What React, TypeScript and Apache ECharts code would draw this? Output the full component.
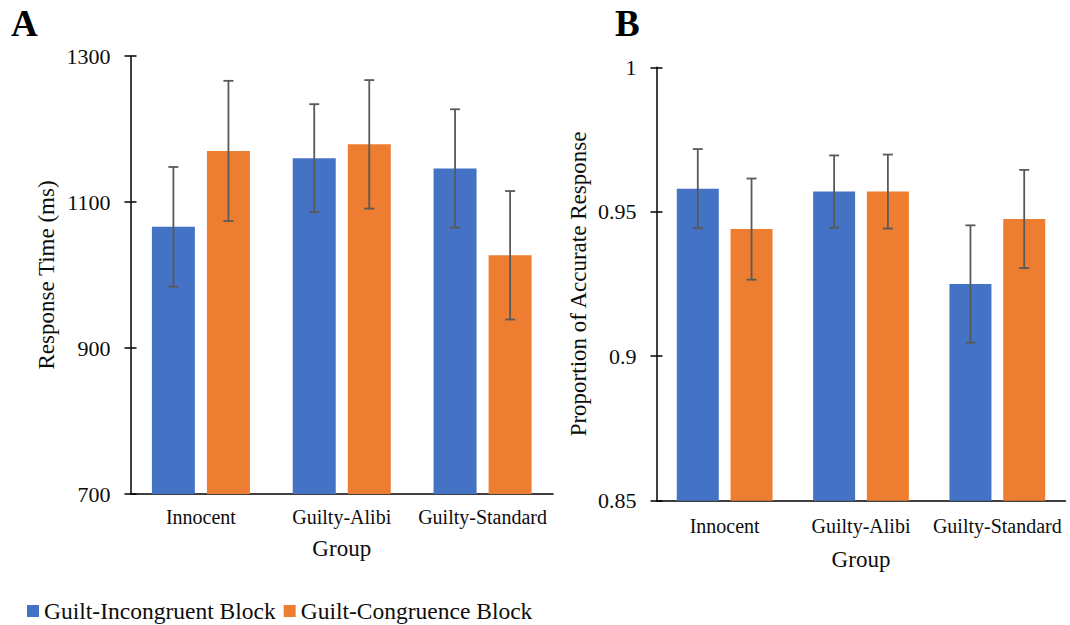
import React, { useEffect, useRef } from "react";
import * as echarts from "echarts";

// Groups shown on both panels
const groups = ["Innocent", "Guilty-Alibi", "Guilty-Standard"];
const seriesNames = ["Guilt-Incongruent Block", "Guilt-Congruence Block"];

// Panel A: response time (ms), mean and error half-width
const rtIncongruent = [1066, 1160, 1146];
const rtIncongruentErr = [82, 74, 81];
const rtCongruent = [1170, 1179, 1027];
const rtCongruentErr = [96, 88, 88];

// Panel B: proportion of accurate responses, mean and error half-width
const accIncongruent = [0.958, 0.957, 0.925];
const accIncongruentErr = [0.0137, 0.0125, 0.0203];
const accCongruent = [0.944, 0.957, 0.9475];
const accCongruentErr = [0.0175, 0.0128, 0.017];

const BLUE = "#4472C4";
const ORANGE = "#ED7D31";
const ERR = "#595959";
const FONT = "'Liberation Serif', 'Times New Roman', serif";
const TXT = "#0d0d0d";

function errorSeries(
  means: number[],
  errs: number[],
  xAxisIndex: number,
  yAxisIndex: number,
  offset: number
) {
  return {
    type: "custom",
    xAxisIndex,
    yAxisIndex,
    silent: true,
    z: 10,
    data: means.map((m, i) => [i, m - errs[i], m + errs[i]]),
    renderItem: (_params: any, api: any) => {
      const i = api.value(0);
      const lo = api.coord([i, api.value(1)]);
      const hi = api.coord([i, api.value(2)]);
      const x = lo[0] + offset;
      const cap = 5;
      const style = { stroke: ERR, lineWidth: 1.8 };
      return {
        type: "group",
        children: [
          { type: "line", shape: { x1: x, y1: lo[1], x2: x, y2: hi[1] }, style },
          { type: "line", shape: { x1: x - cap, y1: hi[1], x2: x + cap, y2: hi[1] }, style },
          { type: "line", shape: { x1: x - cap, y1: lo[1], x2: x + cap, y2: lo[1] }, style },
        ],
      };
    },
  };
}

function categoryAxis(gridIndex: number, nameGap: number, labelMargin: number) {
  return {
    type: "category",
    gridIndex,
    data: groups,
    name: "Group",
    nameLocation: "middle",
    nameGap,
    nameTextStyle: { fontFamily: FONT, fontSize: 23, color: TXT },
    axisLine: { show: true, lineStyle: { color: "#000", width: 1.5 } },
    axisTick: { show: false },
    axisLabel: { interval: 0, fontFamily: FONT, fontSize: 20, color: TXT, margin: labelMargin },
    splitLine: { show: false },
  };
}

function valueAxis(
  gridIndex: number,
  min: number,
  max: number,
  interval: number,
  name: string,
  nameGap: number
) {
  return {
    type: "value",
    gridIndex,
    min,
    max,
    interval,
    name,
    nameLocation: "middle",
    nameGap,
    nameRotate: 90,
    nameTextStyle: { fontFamily: FONT, fontSize: 23, color: TXT },
    axisLine: { show: true, lineStyle: { color: "#000", width: 1.5 } },
    axisTick: { show: true, length: 6, lineStyle: { color: "#000", width: 1.5 } },
    axisLabel: {
      fontFamily: FONT,
      fontSize: 22,
      color: TXT,
      margin: 20,
      formatter: (v: number) => String(Math.round(v * 1000) / 1000),
    },
    splitLine: { show: false },
  };
}

// companion axis that supplies the inward half of the cross tick marks
function innerTickAxis(gridIndex: number, min: number, max: number, interval: number) {
  return {
    type: "value",
    gridIndex,
    min,
    max,
    interval,
    position: "left",
    axisLine: { show: false },
    axisTick: { show: true, inside: true, length: 6, lineStyle: { color: "#000", width: 1.5 } },
    axisLabel: { show: false },
    splitLine: { show: false },
  };
}

export default function App() {
  const ref = useRef<HTMLDivElement>(null);

  useEffect(() => {
    if (!ref.current) return;
    const chart = echarts.init(ref.current, null, { renderer: "svg" });

    const barWA = 43;
    const barWB = 42;
    const gapPct = "28%";
    const offA = (barWA + barWA * 0.28) / 2;
    const offB = (barWB + barWB * 0.28) / 2;

    chart.setOption({
      animation: false,
      backgroundColor: "#ffffff",
      textStyle: { fontFamily: FONT },
      grid: [
        { left: 130.5, top: 56, width: 422.5, height: 438 },
        { left: 656.5, top: 67.3, width: 409, height: 433.4 },
      ],
      xAxis: [categoryAxis(0, 43, 13), categoryAxis(1, 47, 15)],
      yAxis: [
        valueAxis(0, 700, 1300, 200, "Response Time (ms)", 73),
        valueAxis(1, 0.85, 1, 0.05, "Proportion of Accurate Response", 67),
        innerTickAxis(0, 700, 1300, 200),
        innerTickAxis(1, 0.85, 1, 0.05),
      ],
      legend: {
        left: 27,
        top: 599,
        padding: 0,
        icon: "rect",
        itemWidth: 12,
        itemHeight: 12,
        itemGap: 8,
        textStyle: { fontFamily: FONT, fontSize: 23.5, color: TXT },
        data: seriesNames,
      },
      graphic: [
        {
          type: "text",
          left: 11,
          top: 5,
          style: { text: "A", font: `bold 37px ${FONT}`, fill: "#000" },
        },
        {
          type: "text",
          left: 615,
          top: 5,
          style: { text: "B", font: `bold 37px ${FONT}`, fill: "#000" },
        },
      ],
      series: [
        {
          name: seriesNames[0],
          type: "bar",
          xAxisIndex: 0,
          yAxisIndex: 0,
          barWidth: barWA,
          barGap: gapPct,
          itemStyle: { color: BLUE },
          data: rtIncongruent,
        },
        {
          name: seriesNames[1],
          type: "bar",
          xAxisIndex: 0,
          yAxisIndex: 0,
          barWidth: barWA,
          barGap: gapPct,
          itemStyle: { color: ORANGE },
          data: rtCongruent,
        },
        {
          name: seriesNames[0],
          type: "bar",
          xAxisIndex: 1,
          yAxisIndex: 1,
          barWidth: barWB,
          barGap: gapPct,
          itemStyle: { color: BLUE },
          data: accIncongruent,
        },
        {
          name: seriesNames[1],
          type: "bar",
          xAxisIndex: 1,
          yAxisIndex: 1,
          barWidth: barWB,
          barGap: gapPct,
          itemStyle: { color: ORANGE },
          data: accCongruent,
        },
        errorSeries(rtIncongruent, rtIncongruentErr, 0, 0, -offA),
        errorSeries(rtCongruent, rtCongruentErr, 0, 0, offA),
        errorSeries(accIncongruent, accIncongruentErr, 1, 1, -offB),
        errorSeries(accCongruent, accCongruentErr, 1, 1, offB),
      ],
    });

    return () => chart.dispose();
  }, []);

  return (
    <div
      ref={ref}
      style={{ position: "fixed", left: 0, top: 0, width: 1070, height: 625, background: "#fff" }}
    />
  );
}
